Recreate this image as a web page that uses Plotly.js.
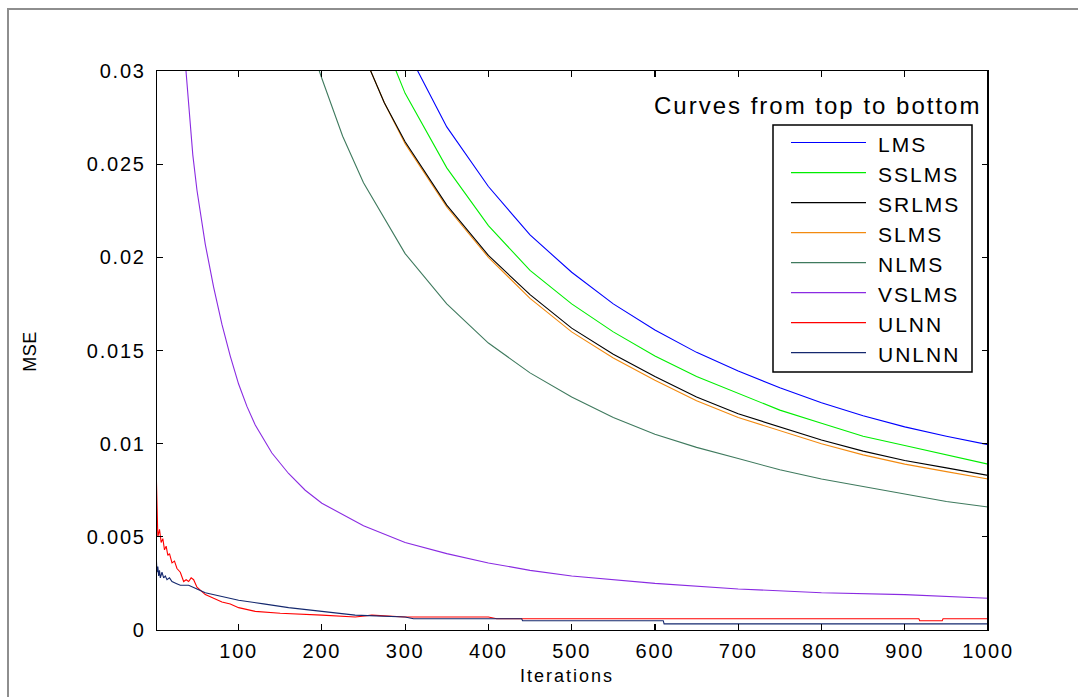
<!DOCTYPE html>
<html><head><meta charset="utf-8">
<script src="https://cdn.plot.ly/plotly-3.0.1.min.js"></script>
<style>
html,body{margin:0;padding:0;background:#fff;}
#wrap{position:relative;width:1078px;height:697px;overflow:hidden;}
#plot{position:absolute;left:0;top:0;width:1078px;height:697px;}
#frame{position:absolute;left:7px;top:8px;width:1200px;height:900px;border-top:2px solid #8e8e8e;border-left:2px solid #8e8e8e;pointer-events:none;}
#plot .xtick text,#plot .ytick text{letter-spacing:1.8px;}
#plot g.annotation text{letter-spacing:2px;}
#plot g.annotation[data-index="0"] text{letter-spacing:0.5px;}
</style></head>
<body><div id="wrap"><div id="plot"></div><div id="frame"></div></div>
<script>
// ---------------- data ----------------
const seriesNames = ["LMS","SSLMS","SRLMS","SLMS","NLMS","VSLMS","ULNN","UNLNN"];
const seriesColors = ["#0000ff","#00ee00","#000000","#f28a10","#3f7a5e","#8a2be2","#ff0000","#14286e"];

const lmsX = [300,350,400,450,500,550,600,650,700,750,800,850,900,950,1000];
const lmsY = [0.0313,0.0270,0.0238,0.0212,0.0192,0.0175,0.0161,0.0149,0.0139,0.0130,0.0122,0.0115,0.0109,0.0104,0.00995];

const sslmsX = [280,300,350,400,450,500,550,600,650,700,750,800,850,900,950,1000];
const sslmsY = [0.0310,0.0288,0.0248,0.0217,0.0193,0.0175,0.0160,0.0147,0.0136,0.0127,0.0118,0.0111,0.0104,0.0099,0.0094,0.0089];

const srlmsX = [250,275,300,350,400,450,500,550,600,650,700,750,800,850,900,950,1000];
const srlmsY = [0.0309,0.0283,0.0262,0.0228,0.0201,0.0180,0.0162,0.0148,0.0136,0.0125,0.0116,0.0109,0.0102,0.0096,0.0091,0.0087,0.0083];

const slmsX = [250,275,300,350,400,450,500,550,600,650,700,750,800,850,900,950,1000];
const slmsY = [0.0309,0.0283,0.0261,0.0227,0.0200,0.0178,0.0160,0.0146,0.0134,0.0123,0.0114,0.0107,0.0100,0.0094,0.0089,0.0085,0.0081];

const nlmsX = [190,200,225,250,300,350,400,450,500,550,600,650,700,750,800,850,900,950,1000];
const nlmsY = [0.0309,0.0296,0.0265,0.0240,0.0202,0.0175,0.0154,0.0138,0.0125,0.0114,0.0105,0.0098,0.0092,0.0086,0.0081,0.0077,0.0073,0.0069,0.0066];

const vslmsX = [35,40,45,50,55,60,70,80,90,100,110,120,140,160,180,200,250,300,350,400,450,500,600,700,800,900,1000];
const vslmsY = [0.0310,0.0283,0.0255,0.0236,0.0221,0.0207,0.0184,0.0164,0.0147,0.0132,0.0120,0.0110,0.0095,0.0084,0.0075,0.0068,0.0056,0.0047,0.0041,0.0036,0.0032,0.0029,0.0025,0.0022,0.0020,0.0019,0.0017];

const ulnnX = [1,2,3,5,7,9,11,13,15,17,20,23,26,30,34,37,40,43,46,50,55,60,70,80,90,100,120,150,200,240,260,300,400,410,600,917,918,945,946,1000];
const ulnnY = [0.0086,0.0060,0.0050,0.0054,0.0047,0.0049,0.0043,0.0045,0.0040,0.0041,0.0036,0.0037,0.0033,0.0031,0.0026,0.0027,0.0026,0.0028,0.0027,0.0023,0.0021,0.0019,0.0017,0.0015,0.0014,0.0012,0.0010,0.0009,0.0008,0.0007,0.0008,0.0007,0.0007,0.0006,0.0006,0.0006,0.0005,0.0005,0.0006,0.0006];

const unlnnX = [1,2,3,4,5,6,8,10,12,14,17,20,25,30,35,40,50,60,80,100,130,160,200,240,300,310,440,441,610,611,1000];
const unlnnY = [0.0040,0.0031,0.0034,0.0029,0.0032,0.0028,0.0031,0.0028,0.0029,0.0027,0.0028,0.0026,0.0025,0.0024,0.0024,0.0024,0.0022,0.0020,0.0018,0.0016,0.0014,0.0012,0.0010,0.0008,0.0007,0.0006,0.0006,0.0005,0.0005,0.00033,0.00033];

const xTickVals = [100,200,300,400,500,600,700,800,900,1000];
const xTickText = ["100","200","300","400","500","600","700","800","900","1000"];
const yTickVals = [0,0.005,0.01,0.015,0.02,0.025,0.03];
const yTickText = ["0","0.005","0.01","0.015","0.02","0.025","0.03"];

const xTitle = "Iterations";
const yTitle = "MSE";
const legendHeader = "Curves from top to bottom";

// ---------------- drawing ----------------
const seriesX = [lmsX,sslmsX,srlmsX,slmsX,nlmsX,vslmsX,ulnnX,unlnnX];
const seriesY = [lmsY,sslmsY,srlmsY,slmsY,nlmsY,vslmsY,ulnnY,unlnnY];
const drawOrder = [0,1,3,2,4,5,6,7];
const traces = drawOrder.map(i => ({
  x: seriesX[i], y: seriesY[i], type: 'scatter', mode: 'lines', name: seriesNames[i],
  line: {color: seriesColors[i], width: 1.1}, hoverinfo: 'skip'
}));

const W = 1078, H = 697, L = 157, R = 988, T = 71, B = 630;
const px = v => (v - L) / (R - L);
const py = v => (B - v) / (B - T);
const FONT = 'Liberation Sans, Arial, sans-serif';

const shapes = [
  {type:'rect', xref:'paper', yref:'paper', x0:px(773), x1:px(972), y0:py(372), y1:py(125),
   line:{color:'#000', width:1.5}, fillcolor:'#fff', layer:'above'},
  {type:'line', xref:'paper', yref:'paper', x0:1, x1:1, y0:0, y1:1, line:{color:'#000', width:2}, layer:'above'}
];
const annotations = [
  {text:yTitle, xref:'paper', yref:'paper', x:px(30), y:py(352), xanchor:'center', yanchor:'middle',
   textangle:-90, showarrow:false, font:{family:FONT, size:18, color:'#000'}},
  {text:xTitle, xref:'paper', yref:'paper', x:px(518), y:py(676), xanchor:'left', yanchor:'middle', align:'left',
   showarrow:false, font:{family:FONT, size:18, color:'#000'}},
  {text:legendHeader, xref:'paper', yref:'paper', x:px(652), y:py(106), xanchor:'left', yanchor:'middle', align:'left',
   showarrow:false, font:{family:FONT, size:24, color:'#000'}}
];
seriesNames.forEach((n, i) => {
  const yy = 142.5 + 30.03 * i;
  shapes.push({type:'line', xref:'paper', yref:'paper', x0:px(791), x1:px(866), y0:py(yy), y1:py(yy),
    line:{color:seriesColors[i], width:1.2}, layer:'above'});
  annotations.push({text:n, xref:'paper', yref:'paper', x:px(876), y:py(yy+1.5), xanchor:'left', yanchor:'middle', align:'left',
    showarrow:false, font:{family:FONT, size:21, color:'#000'}});
});

const axisCommon = {
  showgrid:false, zeroline:false, showline:true, linecolor:'#000', linewidth:1.2, mirror:'ticks',
  ticks:'inside', ticklen:6, tickwidth:1.2, tickcolor:'#000',
  tickfont:{family:FONT, size:20, color:'#000'}
};
const layout = {
  width:W, height:H, paper_bgcolor:'#fff', plot_bgcolor:'#fff', showlegend:false,
  margin:{l:L, r:W-R, t:T, b:H-B, pad:0},
  xaxis: Object.assign({}, axisCommon, {range:[2,1000], tickmode:'array', tickvals:xTickVals, ticktext:xTickText, ticklabelstandoff:3}),
  yaxis: Object.assign({}, axisCommon, {range:[0,0.03], tickmode:'array', tickvals:yTickVals, ticktext:yTickText, ticklabelstandoff:6}),
  shapes: shapes, annotations: annotations
};
Plotly.newPlot('plot', traces, layout, {staticPlot:true, displayModeBar:false});
</script></body></html>
